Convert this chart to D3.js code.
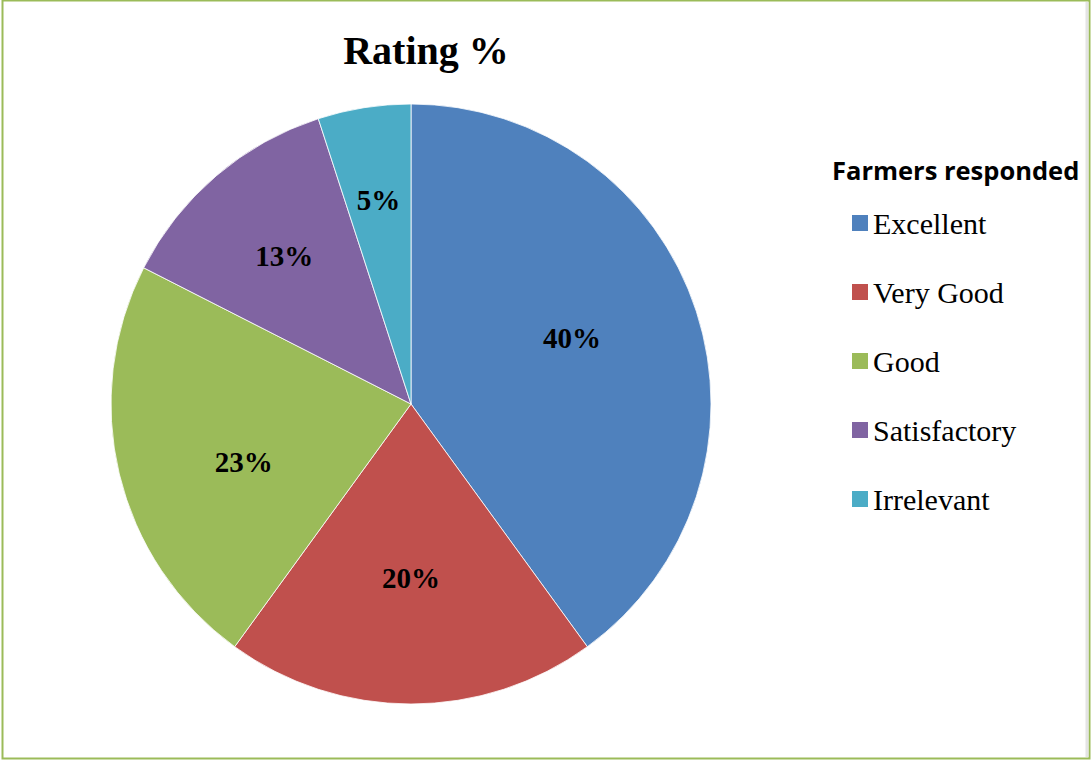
<!DOCTYPE html>
<html>
<head>
<meta charset="utf-8">
<script src="https://cdn.jsdelivr.net/npm/d3@7"></script>
<style>
  body { margin: 0; background: #fff; }
</style>
</head>
<body>
<div id="chart"></div>
<script>
var categories = ['Excellent', 'Very Good', 'Good', 'Satisfactory', 'Irrelevant'];
var values = [40, 20, 22.5, 12.5, 5];
var labels = ['40%', '20%', '23%', '13%', '5%'];
var colors = ['#4f81bd', '#c0504d', '#9bbb59', '#8064a2', '#4bacc6'];

var width = 1092, height = 761;
var cx = 411, cy = 404, radius = 300;
// label placement: distance as share of radius, and where along the slice's sweep
var labelDist = [0.58, 0.58, 0.59, 0.65, 0.69];
var labelSweep = [0.47, 0.5, 0.43, 0.5, 0.5];

var color = d3.scaleOrdinal().domain(categories).range(colors);

var svg = d3.select("#chart").append("svg")
    .attr("width", width)
    .attr("height", height);

// chart border
svg.append("rect")
    .attr("x", 2.5)
    .attr("y", 0.5)
    .attr("width", 1087)
    .attr("height", 758)
    .attr("fill", "#fff")
    .attr("stroke", "#9bbb59")
    .attr("stroke-width", 2);

// faint shadow on the right edge
svg.append("line")
    .attr("x1", 1087).attr("x2", 1087)
    .attr("y1", 2).attr("y2", 757)
    .attr("stroke", "#e4e4e4")
    .attr("stroke-width", 3);

svg.append("text")
    .attr("x", 426)
    .attr("y", 64)
    .attr("text-anchor", "middle")
    .attr("font-family", "Liberation Serif, Times New Roman, serif")
    .attr("font-weight", "bold")
    .attr("font-size", "40px")
    .text("Rating %");

var pie = d3.pie().sort(null).value(function (d) { return d.value; });
var data = categories.map(function (c, i) {
    return { name: c, value: values[i], label: labels[i], dist: labelDist[i], sweep: labelSweep[i] };
});

var arc = d3.arc().innerRadius(0).outerRadius(radius);

var g = svg.append("g")
    .attr("transform", "translate(" + cx + "," + cy + ")");

var slices = g.selectAll(".slice")
    .data(pie(data))
    .enter().append("g")
    .attr("class", "slice");

slices.append("path")
    .attr("d", arc)
    .attr("fill", function (d) { return color(d.data.name); })
    .attr("stroke", "#fff")
    .attr("stroke-width", 0.8);

slices.append("text")
    .attr("transform", function (d) {
        var r = radius * d.data.dist;
        var a = d.startAngle + (d.endAngle - d.startAngle) * d.data.sweep;
        return "translate(" + (Math.sin(a) * r) + "," + (-Math.cos(a) * r) + ")";
    })
    .attr("dy", "0.35em")
    .attr("text-anchor", "middle")
    .attr("font-family", "Liberation Serif, Times New Roman, serif")
    .attr("font-weight", "bold")
    .attr("font-size", "29px")
    .text(function (d) { return d.data.label; });

// legend
var legend = svg.append("g")
    .attr("transform", "translate(832,0)");

legend.append("text")
    .attr("x", 0)
    .attr("y", 180)
    .attr("font-family", "Open Sans, Liberation Sans, Arial, sans-serif")
    .attr("font-weight", "bold")
    .attr("font-size", "25.5px")
    .text("Farmers responded");

var item = legend.selectAll(".item")
    .data(categories)
    .enter().append("g")
    .attr("class", "item")
    .attr("transform", function (d, i) { return "translate(0," + (223 + i * 69) + ")"; });

item.append("rect")
    .attr("x", 20)
    .attr("y", -8)
    .attr("width", 16)
    .attr("height", 16)
    .attr("fill", function (d) { return color(d); });

item.append("text")
    .attr("x", 41)
    .attr("y", 0)
    .attr("dy", "0.35em")
    .attr("font-family", "Liberation Serif, Times New Roman, serif")
    .attr("font-size", "30px")
    .text(function (d) { return d; });
</script>
</body>
</html>
